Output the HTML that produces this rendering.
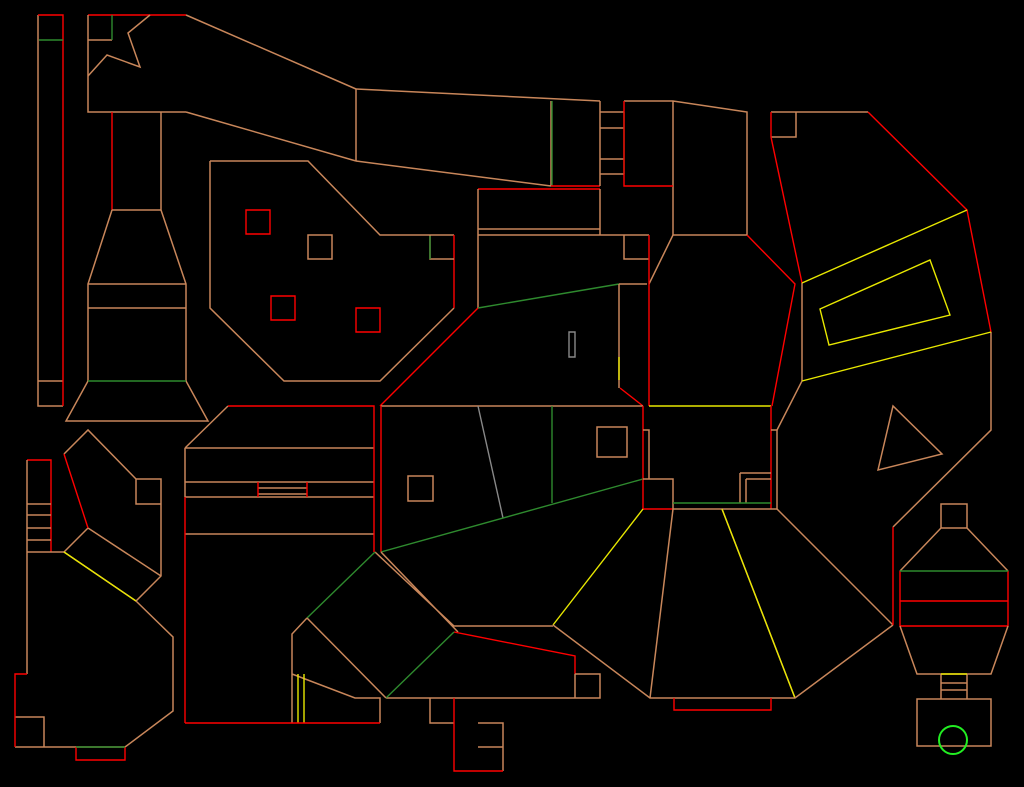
<!DOCTYPE html>
<html><head><meta charset="utf-8"><style>
html,body{margin:0;padding:0;background:#000;width:1024px;height:787px;overflow:hidden}
svg{display:block}
.o{stroke:#c8865a;fill:none;stroke-width:1.5}
.r{stroke:#ff0000;fill:none;stroke-width:1.4}
.g{stroke:#2e8a2e;fill:none;stroke-width:1.4}
.y{stroke:#e8e800;fill:none;stroke-width:1.4}
.a{stroke:#888;fill:none;stroke-width:1.4}
</style></head><body>
<svg width="1024" height="787" viewBox="0 0 1024 787" xmlns="http://www.w3.org/2000/svg">
<path class="o" d="M38,15V406H63M38,381H63"/>
<path class="r" d="M38,15H63V406"/>
<path class="g" d="M39,40H63"/>
<path class="r" d="M88,15H186"/>
<path class="o" d="M88,15V112H186M186,15L356,89M186,112L356,161M356,89V161"/>
<path class="o" d="M88,40H112"/><path class="g" d="M112,15V40"/>
<path class="o" d="M88,76L107,55L140,67L128,33L150,15"/>
<path class="r" d="M112,112V210"/>
<path class="o" d="M161,112V210M112,210H161L186,284V381M112,210L88,284V381M88,284H186M88,308H186M88,381L66,421H208L186,381"/>
<path class="g" d="M88,381H186"/>
<path class="o" d="M210,161H308L380,235H454M454,308L380,381H284L210,308V161"/>
<path class="r" d="M454,235V308"/>
<path class="r" d="M246,210h24v24h-24z"/><path class="o" d="M308,235h24v24h-24z"/>
<path class="r" d="M271,296h24v24h-24z"/><path class="r" d="M356,308h24v24h-24z"/>
<path class="o" d="M430,235V259H454"/><path class="g" d="M430,236V259"/>
<path class="o" d="M356,89L600,101M356,161L551,186M551,101V186"/>
<path class="g" d="M552,101V186"/><path class="r" d="M551,186H600"/>
<path class="o" d="M600,101V186M600,112H624M600,128H624M600,159H624M600,174H624"/>
<path class="g" d="M624,112V174"/>
<path class="o" d="M624,101H673L747,112V235H673V101"/>
<path class="r" d="M624,101V186H673"/>
<path class="r" d="M478,189H600"/>
<path class="o" d="M600,189V235M478,189V308M478,229H600M478,235H649"/>
<path class="g" d="M478,308L619,284"/>
<path class="o" d="M619,284H647M624,235V259H649M649,284L673,235M619,284V388"/>
<path class="r" d="M649,235V406M620,388L643,406"/>
<path class="a" d="M569,332h6v25h-6z"/>
<path class="y" d="M619,357V380"/>
<path class="r" d="M380,406L478,308"/>
<path class="o" d="M381,406H643"/>
<path class="r" d="M381,406V552M643,406V479"/>
<path class="o" d="M643,430h6v49"/>
<path class="a" d="M478,406L503,518"/>
<path class="g" d="M552,406V503"/>
<path class="g" d="M381,552L643,479"/>
<path class="o" d="M597,427h30v30h-30z"/><path class="o" d="M408,476h25v25h-25z"/>
<path class="r" d="M643,479V509H673"/><path class="o" d="M643,479H673V509"/>
<path class="y" d="M649,406H771"/>
<path class="r" d="M771,406V509"/>
<path class="o" d="M771,430h6v79M740,473h31M746,479h25M746,479V503M740,473V503M673,509H777"/>
<path class="g" d="M673,503H771"/>
<path class="y" d="M643,509L553,625"/>
<path class="o" d="M673,509L650,698M722,509L795,698"/>
<path class="y" d="M722,509L795,698"/>
<path class="o" d="M777,509L893,625M553,625L650,698H795L893,625"/>
<path class="r" d="M674,698V710H771V698"/>
<path class="o" d="M375,552L454,626H553M381,552L458,632"/>
<path class="r" d="M454,632L575,656V674"/>
<path class="o" d="M575,674H600V698H386M575,674V698"/>
<path class="g" d="M386,698L454,632"/>
<path class="g" d="M375,552L307,618"/>
<path class="o" d="M307,618L292,634V723M307,618L386,698M292,674L355,698H380V723"/>
<path class="y" d="M298,674V723M304,674V723"/>
<path class="r" d="M185,723H380"/>
<path class="o" d="M430,698V723H454M478,723H503V771M478,747H503"/>
<path class="r" d="M454,698V771H503"/>
<path class="o" d="M185,448L228,406M185,448V497M185,448H374M185,482H374M185,497H374M185,534H374M258,488H307M258,494H307"/>
<path class="r" d="M228,406H374V552M185,497V723M258,482V497M307,482V497"/>
<path class="r" d="M27,460H51V552"/>
<path class="o" d="M27,460V674M27,504H51M27,515H51M27,528H51M27,540H51M27,552H64"/>
<path class="o" d="M64,552L88,528M88,528L161,576M64,552L136,601L161,576V479H136V504H161M136,479L88,430L64,454"/>
<path class="r" d="M64,454L88,528"/>
<path class="y" d="M64,552L136,601"/>
<path class="o" d="M136,601L173,637V711L125,747H15M15,717H44V747"/>
<path class="r" d="M27,674H15V747M76,747V760H125V747"/>
<path class="g" d="M76,747H125"/>
<path class="o" d="M771,112H868M771,112H796V137H771"/>
<path class="r" d="M771,112V137L802,283M868,112L967,210L991,332M747,235L795,284L772,406"/>
<path class="o" d="M991,332V430L893,527"/>
<path class="r" d="M893,527V625"/>
<path class="o" d="M802,283V381L777,430"/>
<path class="y" d="M802,283L967,210M802,381L991,332M820,309L930,260L950,315L829,345Z"/>
<path class="o" d="M878,470L893,406L942,454Z"/>
<path class="o" d="M941,504H967V528H941ZM941,528L900,571M967,528L1008,571"/>
<path class="r" d="M900,571V626H1008V571M900,601H1008"/>
<path class="g" d="M900,571H1008"/>
<path class="o" d="M900,626L917,674H991L1008,626M941,674V699M967,674V699M941,683H967M941,690H967M917,699H991V746H917Z"/>
<path class="y" d="M941,674H967"/>
<circle cx="953" cy="740" r="14" fill="none" stroke="#22ee22" stroke-width="2"/>
</svg>
</body></html>
